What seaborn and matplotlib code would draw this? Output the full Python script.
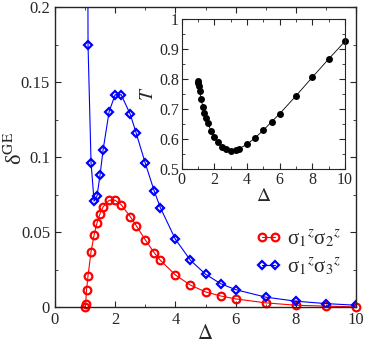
import numpy as np
import matplotlib
matplotlib.use("Agg")
import matplotlib.pyplot as plt
import seaborn as sns
from matplotlib.ticker import MultipleLocator

# sigma1z sigma2z (red)
delta_12 = [1.0, 1.02, 1.05, 1.1, 1.2, 1.3, 1.4, 1.5, 1.6, 1.8, 2.0, 2.2, 2.5, 2.7,
            3.0, 3.3, 3.5, 4.0, 4.5, 5.0, 5.5, 6.0, 7.0, 8.0, 9.0, 10.0]
gap_12 = [0.0, 0.002, 0.0115, 0.021, 0.037, 0.048, 0.0564, 0.0624, 0.0669, 0.0713,
          0.0713, 0.0684, 0.0604, 0.0544, 0.0449, 0.0362, 0.0313, 0.0215, 0.0147,
          0.0102, 0.0075, 0.0055, 0.0029, 0.0013, 0.0007, 0.0002]

# sigma1z sigma3z (blue)
delta_13 = [1.05, 1.1, 1.2, 1.3, 1.4, 1.5, 1.6, 1.8, 2.0, 2.2, 2.5, 2.7, 3.0, 3.3,
            3.5, 4.0, 4.5, 5.0, 5.5, 6.0, 7.0, 8.0, 9.0, 10.0]
gap_13 = [0.6, 0.1747, 0.0964, 0.0707, 0.0742, 0.0884, 0.1049, 0.1304, 0.1417,
          0.1417, 0.1287, 0.116, 0.096, 0.0773, 0.0664, 0.0453, 0.0313, 0.022,
          0.0157, 0.0117, 0.0067, 0.004, 0.0024, 0.0013]

# inset T vs Delta
delta_T = [1.0, 1.02, 1.05, 1.1, 1.2, 1.3, 1.4, 1.5, 1.6, 1.8, 2.0, 2.2, 2.5, 2.7,
           3.0, 3.3, 3.5, 4.0, 4.5, 5.0, 5.5, 6.0, 7.0, 8.0, 9.0, 10.0]
T_vals = [0.795, 0.787, 0.778, 0.762, 0.733, 0.709, 0.687, 0.670, 0.655, 0.628,
          0.609, 0.592, 0.575, 0.568, 0.562, 0.564, 0.568, 0.583, 0.605, 0.630,
          0.658, 0.685, 0.745, 0.807, 0.868, 0.927]

sns.set_style("ticks")
plt.rcParams['font.family'] = ['Liberation Serif', 'DejaVu Serif']
plt.rcParams['mathtext.fontset'] = 'stix'
plt.rcParams['xtick.direction'] = 'in'
plt.rcParams['ytick.direction'] = 'in'

fig = plt.figure(figsize=(3.66, 3.44), dpi=100)
ax = fig.add_axes([0.150, 0.107, 0.823, 0.872])

sns.lineplot(x=delta_12, y=gap_12, ax=ax, color='red', lw=0.8, marker='o',
             markersize=5.5, markerfacecolor='none', markeredgecolor='red',
             markeredgewidth=1.6, clip_on=False, label='σ$_1{}^z$σ$_2{}^z$')
sns.lineplot(x=delta_13, y=gap_13, ax=ax, color='blue', lw=0.8, marker='D',
             markersize=4.5, markerfacecolor='none', markeredgecolor='blue',
             markeredgewidth=1.6, label='σ$_1{}^z$σ$_3{}^z$')

ax.set_xlim(0, 10)
ax.set_ylim(0, 0.2)
ax.xaxis.set_major_locator(MultipleLocator(2))
ax.xaxis.set_minor_locator(MultipleLocator(1))
ax.set_yticks([0, 0.05, 0.1, 0.15, 0.2])
ax.set_yticklabels(['0', '0.05', '0.1', '0.15', '0.2'])
ax.yaxis.set_minor_locator(MultipleLocator(0.025))
ax.tick_params(which='both', top=True, right=True, labelsize=12)
ax.tick_params(which='major', length=4)
ax.tick_params(which='minor', length=2.5)
ax.set_xlabel(r'$\Delta$', fontsize=15)
ax.xaxis.set_label_coords(0.5, -0.06)
ax.set_ylabel('δ$^{\\rm GE}$', fontsize=16)
ax.yaxis.set_label_coords(-0.093, 0.53)
for s in ax.spines.values():
    s.set_linewidth(1.0)

ax.legend(loc='lower right', bbox_to_anchor=(1.0, 0.05), frameon=False,
          fontsize=15, handlelength=1.2, handletextpad=0.3, labelspacing=0.3,
          numpoints=2, borderaxespad=0.3)

# inset
axi = fig.add_axes([0.496, 0.508, 0.447, 0.436])
sns.lineplot(x=delta_T, y=T_vals, ax=axi, color='black', lw=0.6, marker='o',
             markersize=5, markeredgewidth=0, clip_on=False)
axi.set_xlim(0, 10)
axi.set_ylim(0.5, 1.0)
axi.xaxis.set_major_locator(MultipleLocator(2))
axi.xaxis.set_minor_locator(MultipleLocator(1))
axi.set_yticks([0.5, 0.6, 0.7, 0.8, 0.9, 1.0])
axi.set_yticklabels(['0.5', '0.6', '0.7', '0.8', '0.9', '1'])
axi.yaxis.set_minor_locator(MultipleLocator(0.05))
axi.tick_params(which='both', top=True, right=True, labelsize=11.5, pad=2)
axi.tick_params(which='major', length=4)
axi.tick_params(which='minor', length=2.5)
axi.set_xlabel(r'$\Delta$', fontsize=14, labelpad=0)
axi.set_ylabel(r'$T$', fontsize=14, labelpad=1)

fig.savefig("out.png", dpi=100)
